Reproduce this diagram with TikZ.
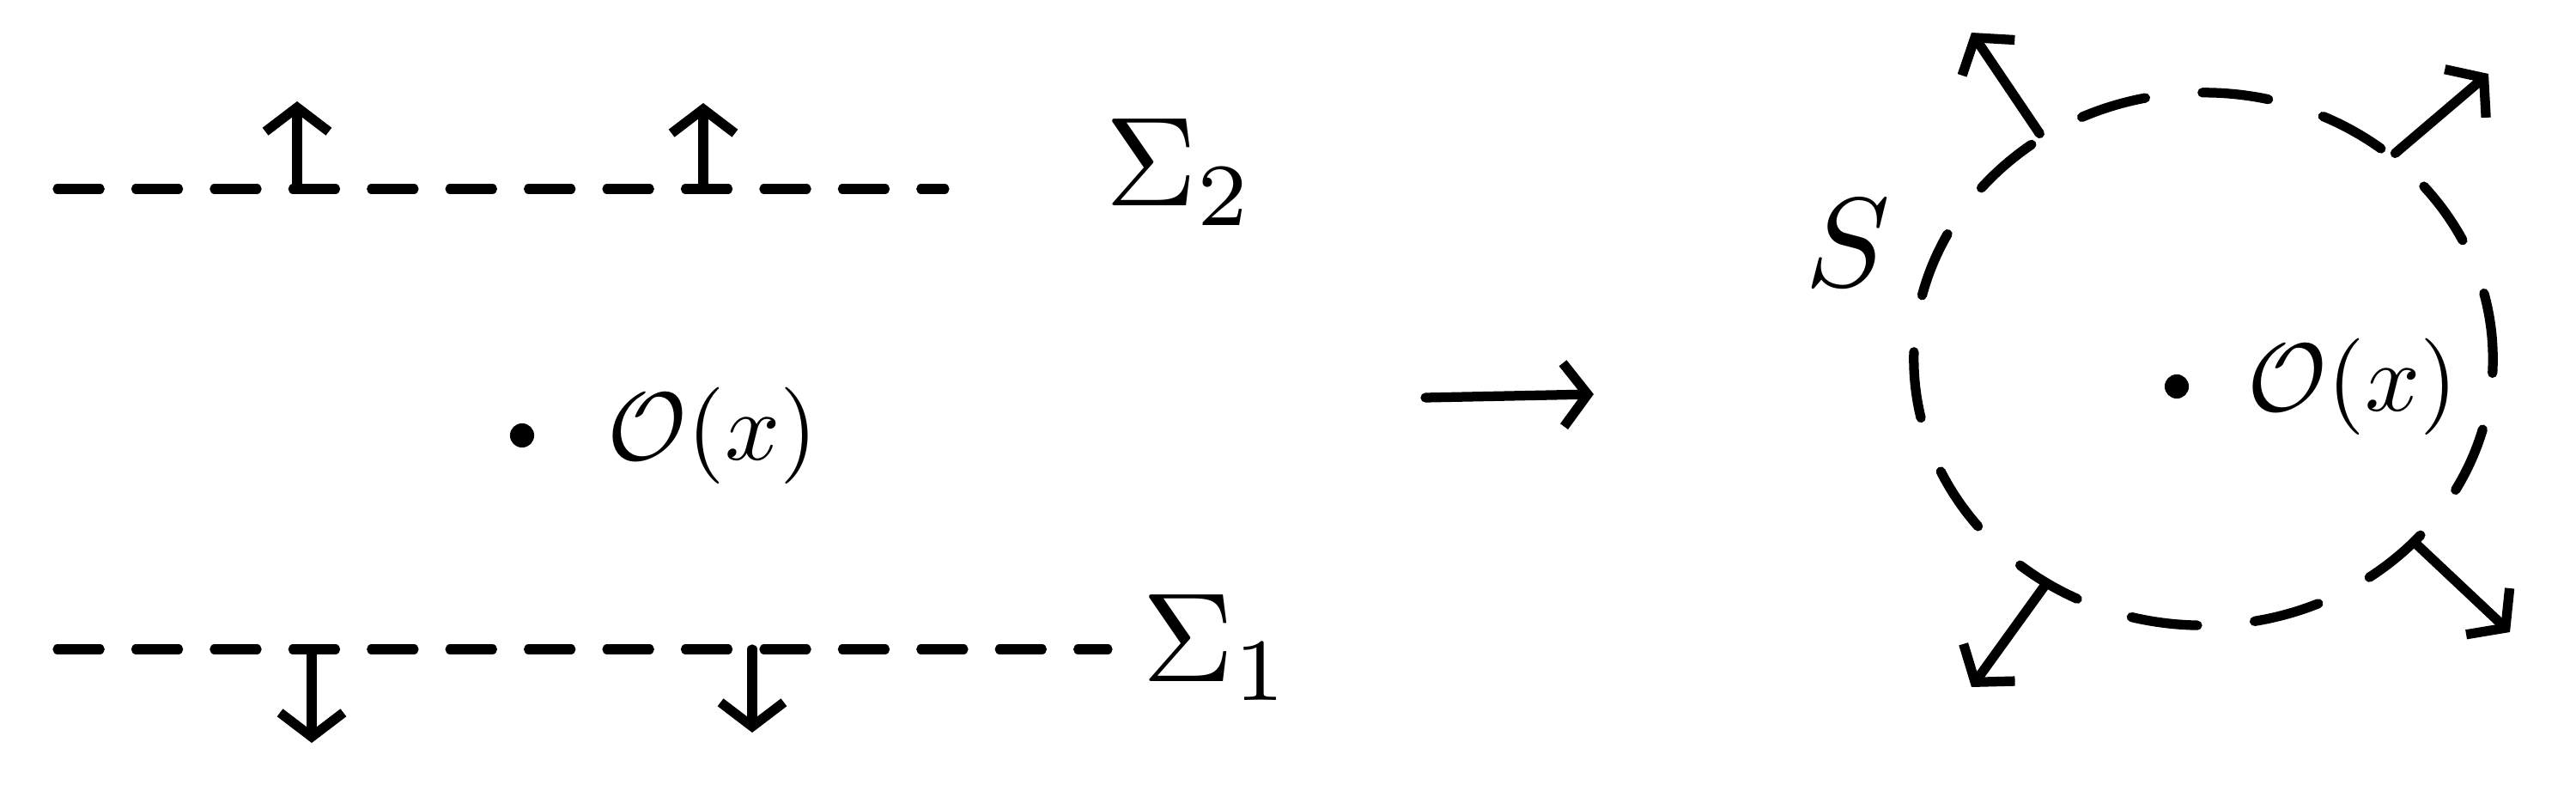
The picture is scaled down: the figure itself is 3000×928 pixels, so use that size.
\documentclass[tikz,border=0pt]{standalone}
\usetikzlibrary{arrows.meta,shapes.geometric}
\begin{document}
\begin{tikzpicture}[x=0.01cm,y=-0.01cm,
  ink/.style={line width=3.2pt,line cap=round,line join=round},
  dsh/.style={ink,dash pattern=on 14pt off 12pt},
  cdsh/.style={ink,dash pattern=on 22pt off 19pt},
  arr/.style={ink,-{Straight Barb[length=8pt,width=21pt]}},
  big/.style={scale=4.2, inner sep=0pt},
  mid/.style={scale=3.2, inner sep=0pt},
  pt/.style={circle, fill, inner sep=0pt, minimum size=8pt}]
\useasboundingbox (0,0) rectangle (3000,928);

% ---- left: two surfaces ----
\coordinate (tl) at (67,220);
\coordinate (tr) at (1100,220);
\draw[dsh] (tl) -- (tr);
\coordinate (ua) at (346,220);  \coordinate (uaT) at (346,118);
\coordinate (ub) at (819,220);  \coordinate (ubT) at (819,120);
\draw[arr] (ua) -- (uaT);
\draw[arr] (ub) -- (ubT);
\node[big, anchor=base west] (sig2) at (1285,240) {$\Sigma_2$};

\coordinate (bl) at (67,756);
\coordinate (br) at (1290,756);
\draw[dsh] (bl) -- (br);
\coordinate (da) at (363,760);  \coordinate (daT) at (363,865);
\coordinate (db) at (876,756);  \coordinate (dbT) at (876,853);
\draw[arr] (da) -- (daT);
\draw[arr] (db) -- (dbT);
\node[big, anchor=base west] (sig1) at (1328,793) {$\Sigma_1$};

\node[pt] (dotL) at (608,507) {};
\node[mid] (oL) at (830,507) {$\mathcal{O}(x)$};

% ---- middle arrow ----
\coordinate (ma) at (1660,463);
\coordinate (mb) at (1856,459);
\draw[arr] (ma) -- (mb);

% ---- right: closed surface ----
\node[draw, ellipse, cdsh, inner sep=0pt, minimum width=6.74cm, minimum height=6.2cm] (circ) at (2566,418) {};
\node[big] (S) at (2152,283) {$S$};
\coordinate (ulT) at (2296,38);
\coordinate (urT) at (2898,86);
\coordinate (lrT) at (2923,736);
\coordinate (llT) at (2296,800);
\draw[arr] (circ.126) -- (ulT);
\draw[arr] (circ.47) -- (urT);
\draw[arr] (circ.-41) -- (lrT);
\draw[arr] (circ.-125) -- (llT);
\node[pt] (dotR) at (2535,450) {};
\node[mid] (oR) at (2740,450) {$\mathcal{O}(x)$};
\end{tikzpicture}
\end{document}
